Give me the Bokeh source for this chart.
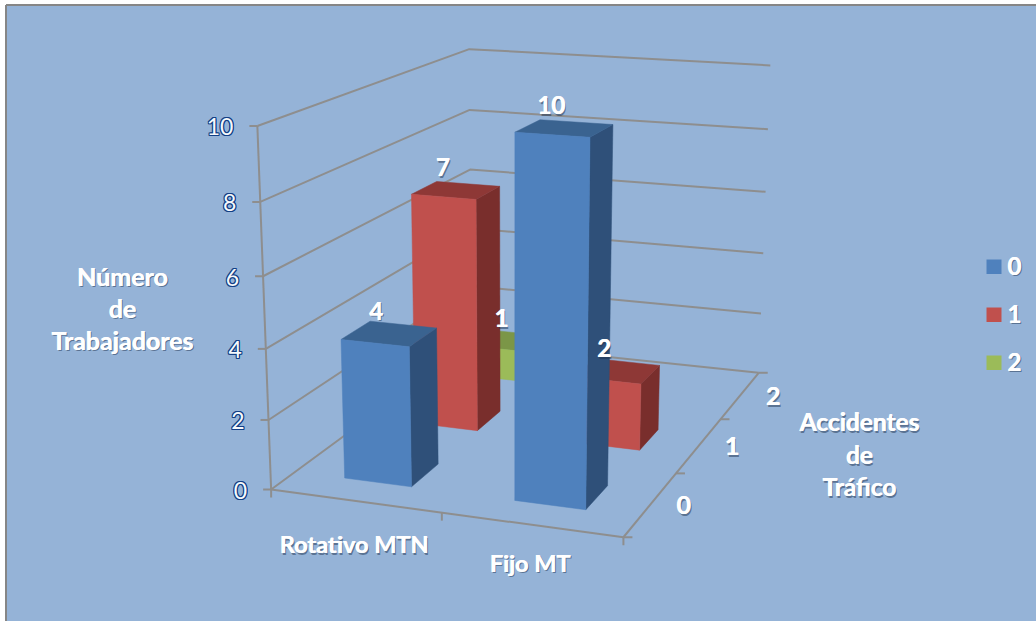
import numpy as np
from bokeh.core.properties import value
from bokeh.embed import file_html
from bokeh.models import Range1d
from bokeh.plotting import figure
from bokeh.resources import INLINE

# Chart values
categories = ["Rotativo MTN", "Fijo MT"]
series_names = ["0", "1", "2"]
accidents_0 = [4, 10]
accidents_1 = [7, 2]
accidents_2 = [1, 0]
value_ticks = [0, 2, 4, 6, 8, 10]
y_title = ["Número", "de", "Trabajadores"]
depth_title = ["Accidentes", "de", "Tráfico"]

series_values = [accidents_0, accidents_1, accidents_2]

# Colours per series: front, top and side faces
face_colors = [
    ("#4F81BD", "#3A6390", "#2F5079"),
    ("#C0504D", "#8E3836", "#792E2C"),
    ("#9BBB59", "#7B9647", "#62773A"),
]
BG = "#95B3D7"
GRID = "#8E8E8E"
FONT = value("Lato")

# Camera: a 3x4 projection solved from where the plot box corners land on the page.
# World axes are category (0..2), series depth (0..3) and value (0..10).
box_world = [(0, 0, 0), (0, 0, 10), (2, 0, 0), (2, 3, 0), (2, 3, 10), (0, 3, 0), (0, 3, 10), (0, 3, 6), (0, 0, 6)]
box_page = [(270, 489), (257, 126), (623, 537), (758, 372), (770, 65), (471, 342), (468, 48), (470, 170), (263, 275)]


def solve_camera(world, page):
    rows = []
    for (a, b, c), (u, v) in zip(world, page):
        rows.append([a, b, c, 1, 0, 0, 0, 0, -u * a, -u * b, -u * c, -u])
        rows.append([0, 0, 0, 0, a, b, c, 1, -v * a, -v * b, -v * c, -v])
    return np.linalg.svd(np.array(rows, dtype=float))[2][-1].reshape(3, 4)


CAM = solve_camera(box_world, box_page)


def project(a, b, c):
    u, v, w = CAM @ np.array([a, b, c, 1.0])
    return u / w, v / w


p = figure(
    width=1036, height=621, output_backend="svg", toolbar_location=None,
    x_range=Range1d(0, 1036), y_range=Range1d(621, 0), min_border=0,
    background_fill_color="white", outline_line_color=None,
)
p.axis.visible = False
p.grid.visible = False

# Chart area with its frame on the left and top
p.quad(left=[5.5], right=[1036], top=[4.5], bottom=[621], fill_color=BG, line_color=None)
p.multi_line(xs=[[5.5, 5.5], [5.5, 1036]], ys=[[621, 4.5], [4.5, 4.5]], line_color="#868686", line_width=2)

# Walls: each gridline runs along the left wall and then the back wall
wall_x, wall_y = [], []
for t in value_ticks:
    pts = [project(0, 0, t), project(0, 3, t), project(2, 3, t)]
    wall_x.append([q[0] for q in pts])
    wall_y.append([q[1] for q in pts])
p.multi_line(wall_x, wall_y, line_color=GRID, line_width=2)

# Axis edges and their tick marks
edges = [((0, 0, 0), (0, 0, 10)), ((0, 0, 0), (2, 0, 0)), ((2, 0, 0), (2, 3, 0))]
edge_x = [[project(*a)[0], project(*b)[0]] for a, b in edges]
edge_y = [[project(*a)[1], project(*b)[1]] for a, b in edges]
for t in value_ticks:
    u, v = project(0, 0, t)
    edge_x.append([u - 8, u])
    edge_y.append([v, v])
for i in range(len(categories) + 1):
    u, v = project(i, 0, 0)
    edge_x.append([u, u])
    edge_y.append([v, v + 8])
for j in range(len(series_names) + 1):
    u, v = project(2, j, 0)
    edge_x.append([u, u + 9])
    edge_y.append([v, v])
p.multi_line(edge_x, edge_y, line_color=GRID, line_width=2)

# Bars, painted from the back row forward
BAR_X = (0.30, 0.70)
BAR_Y = (0.30, 0.685)
bar_labels = []
for s in reversed(range(len(series_names))):
    front, top, side = face_colors[s]
    for c in range(len(categories)):
        h = series_values[s][c]
        if h == 0:
            continue
        x0, x1 = c + BAR_X[0], c + BAR_X[1]
        y0, y1 = s + BAR_Y[0], s + BAR_Y[1]
        faces = [
            ([(x1, y0, 0), (x1, y1, 0), (x1, y1, h), (x1, y0, h)], side),
            ([(x0, y0, h), (x1, y0, h), (x1, y1, h), (x0, y1, h)], top),
            ([(x0, y0, 0), (x1, y0, 0), (x1, y0, h), (x0, y0, h)], front),
        ]
        for corners, color in faces:
            pts = [project(*q) for q in corners]
            p.patch([q[0] for q in pts], [q[1] for q in pts], fill_color=color, line_color=color, line_width=0.5)
        u, v = project((x0 + x1) / 2, (y0 + y1) / 2, h)
        bar_labels.append((u - 13, v - 23, str(h)))


def soft_text(xs, ys, texts, size, align="center"):
    """White bold text with a soft dark edge, thickened by a half pixel."""
    style = dict(text=texts, text_font=FONT, text_font_style="bold", text_font_size=size,
                 text_align=align, text_baseline="middle")
    xs, ys = np.array(xs, dtype=float), np.array(ys, dtype=float)
    p.text(xs + 1.2, ys + 1.6, text_color="#1F3350", text_alpha=0.5, **style)
    p.text(xs - 0.3, ys, text_color="white", **style)
    p.text(xs + 0.3, ys, text_color="white", **style)


def outlined_text(xs, ys, texts, size, align="right"):
    """Pale text with a dark blue outline."""
    for dx, dy in [(-1, 0), (1, 0), (0, -1), (0, 1), (-1, -1), (1, -1), (-1, 1), (1, 1)]:
        p.text(np.array(xs) + dx, np.array(ys) + dy, text=texts, text_color="#123F85",
               text_font=FONT, text_font_size=size, text_align=align, text_baseline="middle")
    p.text(xs, ys, text=texts, text_color="#F6F9FC",
           text_font=FONT, text_font_size=size, text_align=align, text_baseline="middle")


soft_text([b[0] for b in bar_labels], [b[1] for b in bar_labels], [b[2] for b in bar_labels], "24px")

# Value axis labels
vt = [project(0, 0, t) for t in value_ticks]
outlined_text([q[0] - 24 for q in vt], [q[1] + 1 for q in vt], [str(t) for t in value_ticks], "23px")

# Category labels under the front edge
cat_pts = [project(i + 0.5, 0, 0) for i in range(len(categories))]
cat_drop = [43, 38]
soft_text([q[0] - 1 for q in cat_pts], [q[1] + d for q, d in zip(cat_pts, cat_drop)], categories, "23.5px")

# Series labels along the right edge
ser_pts = [project(2, j + 0.5, 0) for j in range(len(series_names))]
soft_text([q[0] + 33 for q in ser_pts], [q[1] + 1 for q in ser_pts], series_names, "25px")

# Axis titles
soft_text([122] * 3, [275, 307, 339], y_title, "25px")
soft_text([859] * 3, [421, 454, 486], depth_title, "24.5px")

# Legend
legend_tops = [259, 307, 355]
p.quad(left=[986] * 3, right=[1001] * 3, top=legend_tops, bottom=[t + 14.5 for t in legend_tops],
       fill_color=[f[0] for f in face_colors], line_color=None)
soft_text([1014] * 3, [t + 6 for t in legend_tops], series_names, "24px")

open("out.html", "w").write(file_html(p, INLINE))
